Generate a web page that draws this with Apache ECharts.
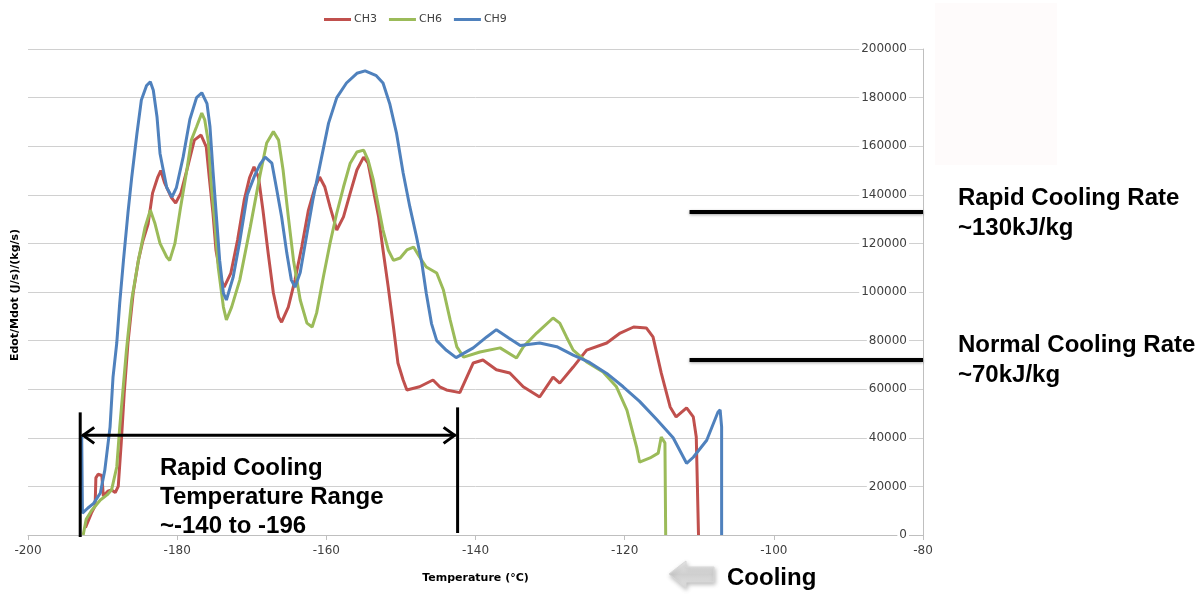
<!DOCTYPE html>
<html>
<head>
<meta charset="utf-8">
<script src="https://cdn.jsdelivr.net/npm/echarts@6/dist/echarts.min.js"></script>
<style>
html,body{margin:0;padding:0;background:#fff;}
#c{width:1200px;height:596px;}
</style>
</head>
<body>
<div id="c"></div>
<script>
// ---- data ----
const seriesNames = ['CH3', 'CH6', 'CH9'];
const xTicks = [-200, -180, -160, -140, -120, -100, -80];
const yTicks = [0, 20000, 40000, 60000, 80000, 100000, 120000, 140000, 160000, 180000, 200000];

const ch3Temp = [-192.3,-191.5,-191.0,-190.9,-190.6,-190.1,-189.9,-189.3,-188.8,-188.3,-187.9,-187.5,-187.1,-186.6,-185.9,-185.2,-184.6,-183.9,-183.3,-182.6,-182.2,-181.7,-180.8,-180.2,-179.5,-178.6,-177.7,-176.8,-176.1,-175.7,-175.2,-174.8,-174.1,-173.7,-172.8,-171.9,-171.0,-170.3,-169.7,-169.1,-168.5,-167.8,-167.1,-166.4,-166.0,-165.1,-164.2,-163.3,-162.4,-161.5,-160.9,-160.2,-159.5,-158.6,-157.7,-156.8,-155.9,-155.0,-154.4,-153.7,-153.0,-152.4,-151.7,-151.0,-150.4,-149.7,-149.2,-147.5,-145.7,-144.8,-143.9,-142.1,-140.3,-139.0,-137.2,-135.4,-133.6,-131.4,-129.6,-128.7,-126.9,-125.1,-122.4,-120.6,-118.8,-117.1,-116.2,-115.1,-113.9,-113.1,-111.7,-110.8,-110.4,-110.1];
const ch3Val = [3000,9000,12000,23500,25000,24500,16000,18000,18500,17500,20000,37900,58400,79000,99600,113000,121000,128000,140700,147300,150000,145000,139000,136600,140700,151400,162500,164600,159700,147300,132500,117300,105000,102000,107800,121400,138000,147000,151500,147300,133700,116000,99600,89700,87600,93800,105000,118500,133700,143200,147300,143200,135000,125500,130900,140700,150200,155500,153000,142000,131000,117300,102000,85600,70800,63800,59700,61000,63800,61000,59700,58600,70800,72000,68000,66700,61000,56800,65000,62500,69100,76100,79000,83100,85600,85200,81500,66700,52700,48600,52300,48600,40300,0];

const ch6Temp = [-192.6,-192.2,-191.5,-190.3,-189.4,-188.8,-188.1,-187.7,-186.8,-186.1,-185.2,-184.3,-183.6,-183.0,-182.3,-181.4,-181.0,-180.3,-179.6,-178.7,-178.1,-177.4,-176.7,-176.3,-175.8,-175.4,-174.9,-174.5,-173.8,-173.4,-172.7,-171.6,-170.2,-168.9,-168.0,-167.1,-166.4,-165.8,-165.1,-164.4,-163.5,-162.6,-161.9,-161.3,-160.4,-159.5,-158.6,-157.7,-156.8,-155.9,-155.0,-154.4,-153.7,-153.0,-152.4,-151.7,-151.0,-150.1,-149.2,-148.3,-147.5,-146.6,-145.2,-144.3,-143.4,-142.5,-141.6,-139.4,-136.7,-134.5,-133.6,-131.8,-129.6,-128.7,-127.8,-126.9,-125.1,-122.9,-121.1,-119.7,-118.4,-118.0,-116.6,-115.5,-115.1,-114.6,-114.5];
const ch6Val = [0,6500,10000,14400,16500,18500,28000,44400,76100,96700,113000,126700,133700,128400,120000,114400,113000,120000,133700,150200,162500,168000,173600,170800,161300,143200,126700,110300,93800,88500,93800,105000,126700,148000,161300,166000,162500,150200,131000,113000,96700,87200,85600,91400,106200,120100,132500,143200,153000,157600,158400,154300,146100,135000,125500,117300,113000,114000,117300,118500,114400,110300,107800,100800,88500,77400,73200,75300,77000,72800,77400,83100,89300,87200,81500,76100,71200,67100,61000,51400,36200,30000,31700,33700,40300,37900,0];

const ch9Temp = [-192.8,-192.7,-192.0,-191.2,-190.3,-189.7,-189.0,-188.6,-188.1,-187.7,-187.2,-186.6,-186.1,-185.4,-184.8,-184.1,-183.6,-183.2,-182.7,-182.3,-181.4,-180.7,-180.1,-179.2,-178.3,-177.4,-176.7,-176.0,-175.6,-175.2,-174.7,-174.3,-173.8,-173.4,-172.5,-171.6,-170.6,-169.6,-168.9,-168.2,-167.3,-166.7,-166.0,-165.3,-164.7,-164.2,-163.5,-162.6,-161.8,-160.9,-159.7,-158.6,-157.3,-155.9,-154.8,-153.3,-152.4,-151.5,-150.6,-149.7,-148.8,-147.9,-147.2,-146.6,-145.9,-145.2,-143.9,-142.6,-140.3,-138.5,-137.2,-135.5,-134.0,-131.4,-129.1,-126.9,-124.7,-122.4,-120.2,-118.0,-115.7,-113.5,-111.7,-110.8,-109.0,-107.5,-107.2,-107.0,-107.0];
const ch9Val = [41000,9000,11000,13000,17300,26700,44400,65000,79000,95500,113000,132500,147000,165000,179000,185000,186500,183000,172000,157000,143000,139000,143000,155500,171000,180000,182000,177500,168000,150000,129500,113000,99500,96700,106000,121000,140000,148000,152500,155500,153000,143000,131000,116000,105000,102000,108000,124000,138000,151500,169500,180000,186000,190000,191000,189000,186000,177500,165500,149000,135000,122600,112000,99500,87000,80000,76000,73000,77000,81500,84500,81000,78000,79000,77500,74000,71000,66500,61000,55000,47500,40000,29500,32000,39000,50500,51500,44500,0];

// annotation values (data units)
const rapidRateLevel = 133000;
const normalRateLevel = 72000;
const rateLineStart = -111.3;
const rangeStart = -193.0;
const rangeEnd = -142.4;
const rangeArrowLevel = 41000;

const colors = ['#C0504D', '#9BBB59', '#4F81BD'];
const zip = (t, v) => t.map((x, i) => [x, v[i]]);
const seriesData = [zip(ch3Temp, ch3Val), zip(ch6Temp, ch6Val), zip(ch9Temp, ch9Val)];

const chart = echarts.init(document.getElementById('c'), null, {renderer: 'canvas'});
const labelFont = '"DejaVu Sans", sans-serif';

const option = {
  animation: false,
  backgroundColor: '#fff',
  color: colors,
  legend: {
    left: 319, top: 9,
    icon: 'rect', itemWidth: 27, itemHeight: 3, itemGap: 12,
    textStyle: {fontFamily: labelFont, fontSize: 11, color: '#404040', padding: [0, 0, 0, -2]},
    data: seriesNames
  },
  grid: {left: 28, right: 277, top: 49, bottom: 61, containLabel: false},
  xAxis: {
    type: 'value', min: -200, max: -80, interval: 20,
    name: 'Temperature (°C)', nameLocation: 'middle', nameGap: 38,
    nameTextStyle: {fontFamily: labelFont, fontSize: 11, fontWeight: 'bold', color: '#000'},
    axisLine: {show: true, onZero: false, lineStyle: {color: '#bfbfbf', width: 1}},
    axisTick: {show: true, length: 5, lineStyle: {color: '#bfbfbf'}},
    axisLabel: {fontFamily: labelFont, fontSize: 12, color: '#404040', margin: 10,
      formatter: v => xTicks.includes(v) ? String(v) : ''},
    splitLine: {show: false}
  },
  yAxis: {
    type: 'value', position: 'right', min: 0, max: 200000, interval: 20000,
    axisLine: {show: true, lineStyle: {color: '#bfbfbf', width: 1}},
    axisTick: {show: false},
    axisLabel: {inside: true, margin: 14, fontFamily: labelFont, fontSize: 12, color: '#404040',
      backgroundColor: '#fff', padding: [0, 2, 0, 2],
      formatter: v => yTicks.includes(v) ? String(v) : ''},
    splitLine: {show: true, lineStyle: {color: '#d0d0d0', width: 1}}
  },
  series: seriesNames.map((n, i) => ({
    name: n, type: 'line', data: seriesData[i], showSymbol: false, symbol: 'none',
    lineStyle: {width: 3, color: colors[i]}, z: 3 + i,
    markLine: i === 2 ? {
      silent: true, symbol: ['none', 'none'], label: {show: false},
      lineStyle: {color: '#000', width: 4, type: 'solid', shadowColor: 'rgba(0,0,0,0.35)', shadowBlur: 3, shadowOffsetY: 1},
      data: [
        [{coord: [rateLineStart, rapidRateLevel]}, {coord: [-80, rapidRateLevel]}],
        [{coord: [rateLineStart, normalRateLevel]}, {coord: [-80, normalRateLevel]}]
      ]
    } : undefined
  }))
};
chart.setOption(option);

// annotations positioned through the chart's own scales
const px = (x, y) => chart.convertToPixel({xAxisIndex: 0, yAxisIndex: 0}, [x, y]);
const a = px(rangeStart, rangeArrowLevel);
const b = px(rangeEnd, rangeArrowLevel);
const zeroY = px(-200, 0)[1];
const ay = a[1];
const lineStyle = {stroke: '#000', lineWidth: 3, fill: null};
const bigFont = 'bold 24px "Liberation Sans", Arial, sans-serif';

const graphic = [
  {type: 'rect', shape: {x: 935, y: 3, width: 122, height: 162}, style: {fill: '#fefbfb'}, z: 0, silent: true},
  // range brackets
  {type: 'line', shape: {x1: a[0], y1: ay - 23, x2: a[0], y2: zeroY + 2}, style: lineStyle, z: 50},
  {type: 'line', shape: {x1: b[0], y1: ay - 28, x2: b[0], y2: zeroY - 2}, style: lineStyle, z: 50},
  {type: 'line', shape: {x1: a[0] + 2, y1: ay, x2: b[0] - 2, y2: ay}, style: lineStyle, z: 50},
  {type: 'polyline', shape: {points: [[a[0] + 14, ay - 8], [a[0] + 3, ay], [a[0] + 14, ay + 8]]}, style: lineStyle, z: 50},
  {type: 'polyline', shape: {points: [[b[0] - 14, ay - 8], [b[0] - 3, ay], [b[0] - 14, ay + 8]]}, style: lineStyle, z: 50},
  {type: 'text', x: 160, y: 454, z: 50,
    style: {text: 'Rapid Cooling\nTemperature Range\n~-140 to -196', font: bigFont, lineHeight: 29, fill: '#000', verticalAlign: 'top'}},
  // right side texts
  {type: 'text', x: 958, y: 183, z: 50,
    style: {text: 'Rapid Cooling Rate\n~130kJ/kg', font: bigFont, lineHeight: 30, fill: '#000', verticalAlign: 'top'}},
  {type: 'text', x: 958, y: 330, z: 50,
    style: {text: 'Normal Cooling Rate\n~70kJ/kg', font: bigFont, lineHeight: 30, fill: '#000', verticalAlign: 'top'}},
  // y axis name (left)
  {type: 'text', x: 15, y: 295, rotation: Math.PI / 2, z: 50,
    style: {text: 'Edot/Mdot (J/s)/(kg/s)', font: 'bold 11px "DejaVu Sans", sans-serif', fill: '#000', align: 'center', verticalAlign: 'middle'}},
  // cooling arrow
  {type: 'polygon', z: 50,
    shape: {points: [[669, 574], [686, 561], [686, 567], [714, 567], [714, 582], [686, 582], [686, 588]]},
    style: {
      fill: new echarts.graphic.LinearGradient(0, 0, 0, 1, [
        {offset: 0, color: '#f0f0f0'}, {offset: 0.5, color: '#cfcfcf'}, {offset: 1, color: '#e6e6e6'}]),
      stroke: '#d8d8d8', lineWidth: 1,
      shadowColor: 'rgba(0,0,0,0.25)', shadowBlur: 4, shadowOffsetX: 1, shadowOffsetY: 2
    }},
  {type: 'text', x: 727, y: 578, z: 50,
    style: {text: 'Cooling', font: bigFont, fill: '#000', verticalAlign: 'middle'}}
];
chart.setOption({graphic: graphic});
</script>
</body>
</html>
